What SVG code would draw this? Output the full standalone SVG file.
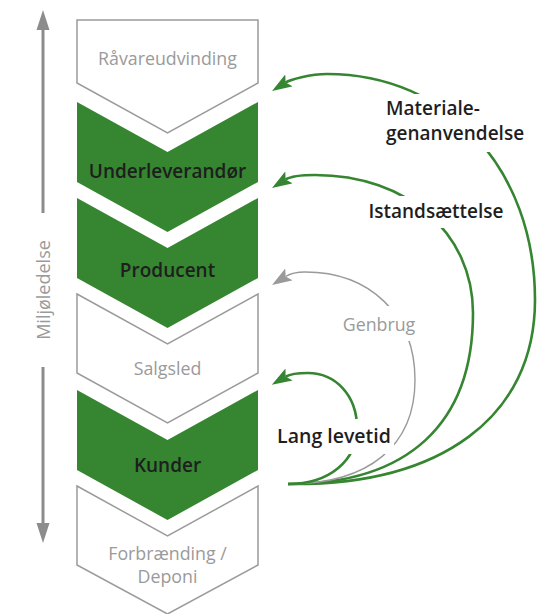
<svg xmlns="http://www.w3.org/2000/svg" width="548" height="614" viewBox="0 0 548 614">
<style>
text{font-family:"Open Sans","Noto Sans","Liberation Sans",sans-serif}
.g{fill:#358531}
.w{fill:#fff;stroke:#9b9b9b;stroke-width:1.5}
.lt{fill:#9a9a9a;font-size:17.8px;text-anchor:middle}
.dk{fill:#1e1e1e;font-size:19px;font-weight:600;text-anchor:middle}
.cg{fill:none;stroke:#358531;stroke-width:2.6}
.cy{fill:none;stroke:#9a9a9a;stroke-width:1.4}
.bg{fill:#fff}
.ax{stroke:#8c8c8c;stroke-width:3;fill:none}
</style>
<defs>
<marker id="hg" markerUnits="userSpaceOnUse" markerWidth="20" markerHeight="14" viewBox="0 0 20 14" refX="4" refY="7" orient="auto"><path d="M0,0 L20,7 L0,14 L4,7 Z" fill="#358531"/></marker>
<marker id="hy" markerUnits="userSpaceOnUse" markerWidth="20" markerHeight="14" viewBox="0 0 20 14" refX="4" refY="7" orient="auto"><path d="M0,0 L20,7 L0,14 L4,7 Z" fill="#9a9a9a"/></marker>
</defs>
<g id="axis">
<path class="ax" d="M43,28 V213 M43,367 V525"/>
<path d="M36.5,30 L43,10 L49.5,30 Z M36.5,523 L43,543 L49.5,523 Z" fill="#8c8c8c"/>
<text transform="translate(50,290) rotate(-90)" class="lt" style="font-size:18px">Miljøledelse</text>
</g>
<g id="n1"><path class="w" d="M77,20 H258 V83 L167.5,133 L77,83 Z"/><text class="lt" x="167.5" y="65">Råvareudvinding</text></g>
<g id="n2"><path class="g" d="M77,102 L167.5,152 L258,102 V182 L167.5,232 L77,182 Z"/><text class="dk" x="167.5" y="178">Underleverandør</text></g>
<g id="n3"><path class="g" d="M77,198 L167.5,248 L258,198 V278 L167.5,328 L77,278 Z"/><text class="dk" x="167.5" y="277">Producent</text></g>
<g id="n4"><path class="w" d="M77,294 L167.5,344 L258,294 V373 L167.5,423 L77,373 Z"/><text class="lt" x="167.5" y="375">Salgsled</text></g>
<g id="n5"><path class="g" d="M77,390 L167.5,440 L258,390 V470 L167.5,520 L77,470 Z"/><text class="dk" x="167.5" y="472">Kunder</text></g>
<g id="n6"><path class="w" d="M77,486 L167.5,536 L258,486 V565 L167.5,614 L77,565 Z"/><text class="lt" x="167.5" y="560">Forbrænding /</text><text class="lt" x="167.5" y="583">Deponi</text></g>
<g id="connectors">
<path class="cg" marker-end="url(#hg)" d="M288,484 C441,486 535,417 535,300 C535,169 448,74 327,74 C310,74 289.9,79.8 285.6,82.5"/>
<path class="cg" marker-end="url(#hg)" d="M288,484 C408,484 473,424 473,313 C473,233 407,175 315,175 C300,175 289.9,176.8 285.6,179.5"/>
<path class="cy" marker-end="url(#hy)" d="M288,484 C370,484 415,445 415,380 C415,315 370,272 305,272 C296,272 289.9,273.8 285.6,276.5"/>
<path class="cg" marker-end="url(#hg)" d="M288,484 C330,484 357,460 357,428 C357,395 335,373 308,373 C298,373 291,373.4 285.6,376.6"/>
</g>
<g id="labels">
<rect class="bg" x="383" y="94" width="144" height="58"/>
<text class="dk" x="386" y="115" style="text-anchor:start">Materiale-</text>
<text class="dk" x="386" y="140" style="text-anchor:start">genanvendelse</text>
<rect class="bg" x="364" y="196" width="145" height="32"/>
<text class="dk" x="436" y="218">Istandsættelse</text>
<rect class="bg" x="340" y="306" width="78" height="35"/>
<text class="lt" x="379" y="331">Genbrug</text>
<rect class="bg" x="274" y="419" width="120" height="35"/>
<text class="dk" x="334" y="443" style="font-size:19.5px">Lang levetid</text>
</g>
</svg>
